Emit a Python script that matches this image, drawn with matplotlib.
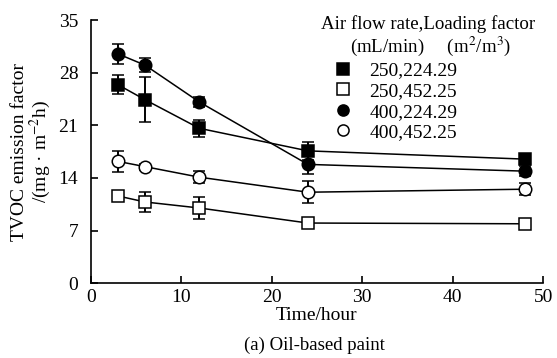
import numpy as np
import matplotlib
matplotlib.use("Agg")
import matplotlib.pyplot as plt
from matplotlib.lines import Line2D

plt.rcParams.update({"font.family": ["Liberation Serif", "DejaVu Serif"],
                     "mathtext.fontset": "stix", "font.size": 14})

time_h = [3, 6, 12, 24, 48]
labels = ["250,224.29", "250,452.25", "400,224.29", "400,452.25"]
values = [
    [26.4, 24.4, 20.6, 17.6, 16.5],
    [11.6, 10.8, 10.0, 8.0, 7.9],
    [30.5, 29.0, 24.1, 15.8, 14.9],
    [16.2, 15.5, 14.1, 12.1, 12.5],
]
errors = [
    [1.3, 3.0, 1.1, 1.2, 0.7],
    [0.7, 1.3, 1.5, 0.5, 0.5],
    [1.3, 0.9, 0.7, 1.3, 0.7],
    [1.4, 0.4, 0.8, 1.5, 0.8],
]
markers = ["s", "s", "o", "o"]
faces = ["black", "white", "black", "white"]

fig = plt.figure(figsize=(5.57, 3.58), dpi=100)
ax = fig.add_axes([0.163, 0.209, 0.812, 0.735])

for v, e, m, fc in zip(values, errors, markers, faces):
    ax.errorbar(time_h, v, yerr=e, color="black", lw=1.1, marker=m, ms=9,
                mfc=fc, mec="black", mew=1.1, capsize=4, elinewidth=1.4, capthick=1.4)

ax.set_xlim(0, 50); ax.set_ylim(0, 35)
ax.set_xticks(range(0, 51, 10)); ax.set_yticks(range(0, 36, 7))
ax.tick_params(direction="in", length=5, width=1.2, labelsize=14)
ax.tick_params(axis="y", pad=9)
ax.tick_params(axis="x", pad=4)
for s in ["top", "right"]:
    ax.spines[s].set_visible(False)
for s in ["left", "bottom"]:
    ax.spines[s].set_linewidth(1.2)

ax.set_xlabel("Time/hour", fontsize=14, labelpad=1)
ax.set_ylabel("TVOC emission factor\n/(mg · m$^{-2}$h)", fontsize=14, linespacing=1.0, labelpad=4)
fig.text(0.565, 0.035, "(a) Oil-based paint", ha="center", va="center", fontsize=13.5)

# legend header
ax.text(0.745, 0.985, "Air flow rate,Loading factor", transform=ax.transAxes,
        ha="center", va="center", fontsize=13.6)
ax.text(0.75, 0.9, "(mL/min)     (m$^2$/m$^3$)", transform=ax.transAxes,
        ha="center", va="center", fontsize=13.6)
handles = [Line2D([], [], ls="none", marker=m, ms=8, mfc=fc, mec="black", mew=1.1, color="black")
           for m, fc in zip(markers, faces)]
ax.legend(handles, labels, loc="upper left", bbox_to_anchor=(0.5, 0.885), frameon=False,
          fontsize=14, handletextpad=0.6, labelspacing=0.15, borderpad=0.1, handlelength=1.5)

fig.savefig("out.png", dpi=100)
